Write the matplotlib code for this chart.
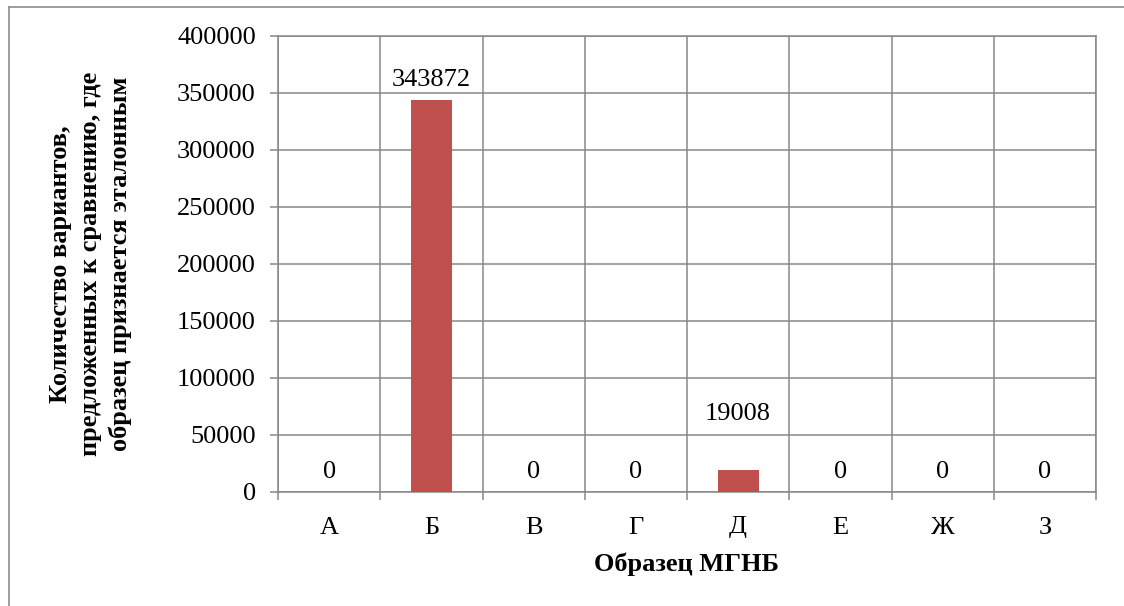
import matplotlib
matplotlib.use("Agg")
import matplotlib.pyplot as plt
from matplotlib.lines import Line2D
import numpy as np

# Data
categories = ["А", "Б", "В", "Г", "Д", "Е", "Ж", "З"]
values = [0, 343872, 0, 0, 19008, 0, 0, 0]
y_ticks = [0, 50000, 100000, 150000, 200000, 250000, 300000, 350000, 400000]

x_title = "Образец МГНБ"
y_title = "Количество вариантов,\nпредложенных к сравнению, где\nобразец признается эталонным"

# Style
plt.rcParams["font.family"] = ["Liberation Serif", "DejaVu Serif"]
bar_color = "#C0504D"
grid_color = "#878787"
font_size = 19

fig = plt.figure(figsize=(11.24, 6.06), dpi=100)
fig.patch.set_facecolor("white")
ax = fig.add_axes([278 / 1124, 1 - 491.5 / 606, (1096 - 278) / 1124, (491.5 - 36) / 606])

x = np.arange(len(categories))
ax.bar(x, values, width=0.4, color=bar_color, zorder=3)

# Value labels above bars (extra lift for the small bar to clear the gridline)
label_lift = [9, 9, 9, 9, 45, 9, 9, 9]
for xi, v, lift in zip(x, values, label_lift):
    ax.annotate(f"{v}", xy=(xi, v), xytext=(0, lift * 72 / 100), textcoords="offset points",
                ha="center", va="bottom", fontsize=font_size, color="black", zorder=4)

ax.set_xlim(-0.5, len(categories) - 0.5)
ax.set_ylim(0, 400000)
ax.set_yticks(y_ticks)
ax.set_yticklabels([str(t) for t in y_ticks])

# Category boundaries: gridlines and tick marks between categories
bounds = np.arange(-0.5, len(categories), 1.0)
ax.set_xticks(bounds)
ax.set_xticklabels([""] * len(bounds))
ax.set_xticks(x, minor=True)
ax.set_xticklabels(categories, minor=True)
ax.tick_params(axis="x", which="minor", length=0, pad=18, labelsize=font_size)
ax.tick_params(axis="x", which="major", length=6, width=1.1, color=grid_color, direction="out")
ax.tick_params(axis="y", which="major", length=6, width=1.1, color=grid_color, pad=10,
               labelsize=font_size)

ax.grid(True, which="major", axis="both", color=grid_color, linewidth=1.1, zorder=0)
ax.set_axisbelow(True)
for s in ax.spines.values():
    s.set_color(grid_color)
    s.set_linewidth(1.1)

ax.set_xlabel(x_title, fontsize=font_size, fontweight="bold")
ax.set_ylabel(y_title, fontsize=font_size, fontweight="bold", linespacing=1.38)
ax.yaxis.set_label_coords(-0.178, 0.5)
ax.xaxis.set_label_coords(0.5, -0.133)

# Outer chart frame
fig.add_artist(Line2D([9 / 1124, 1.0], [1 - 7 / 606, 1 - 7 / 606], transform=fig.transFigure,
                      color="#8c8c8c", linewidth=1.2))
fig.add_artist(Line2D([9 / 1124, 9 / 1124], [0.0, 1 - 7 / 606], transform=fig.transFigure,
                      color="#8c8c8c", linewidth=1.2))

fig.savefig("out.png", dpi=100, facecolor="white")
